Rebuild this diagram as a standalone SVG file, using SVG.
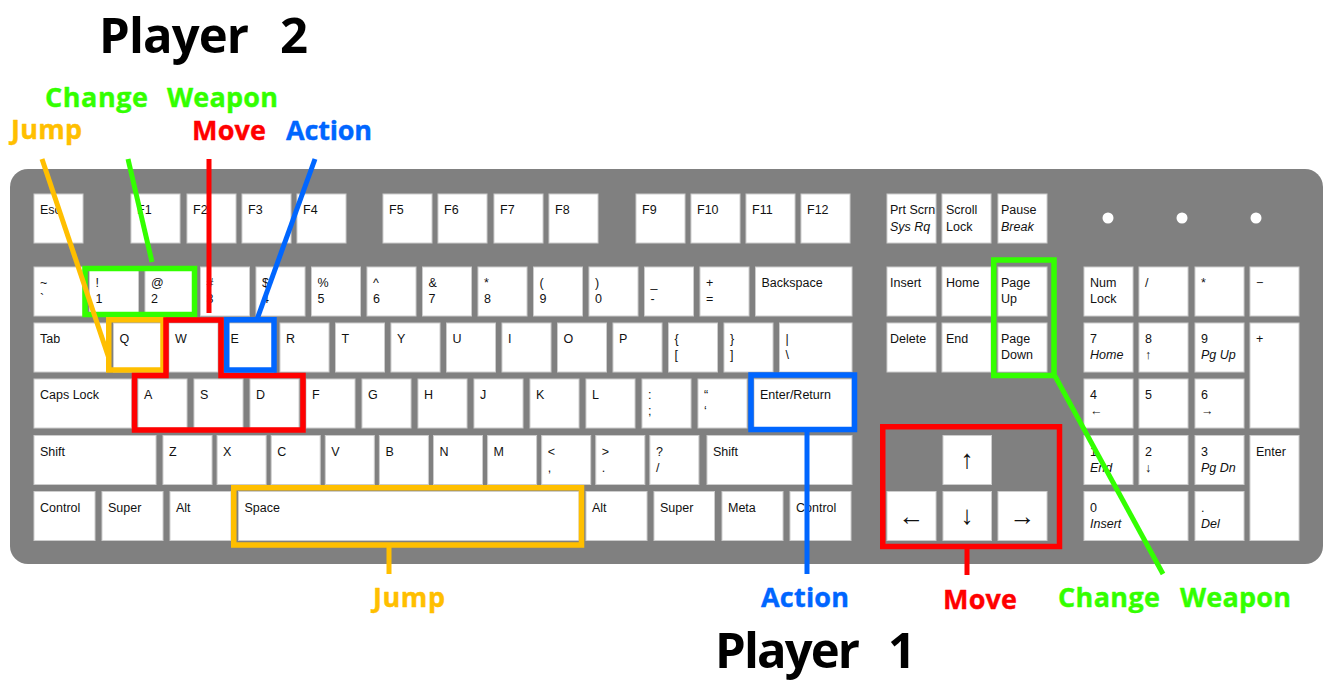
<svg xmlns="http://www.w3.org/2000/svg" width="1333" height="697" viewBox="0 0 1333 697">
<style>
.key{fill:#ffffff;stroke:#cdcdcd;stroke-width:1}
.k{font-family:"Liberation Sans",Arial,sans-serif;font-size:12.5px;fill:#111111}
.it{font-style:italic}
.arr{font-family:"Liberation Sans",Arial,sans-serif;font-size:26px;fill:#111111;text-anchor:middle}
.hl{fill:none;stroke-width:5.5}
.ln{fill:none;stroke-width:5;stroke-linecap:butt}
.fun{font-family:"Open Sans","Lato",sans-serif;font-weight:700;font-size:27px;stroke-width:0.4;stroke-linejoin:round}
.big{font-family:"Open Sans","Lato",sans-serif;font-weight:700;font-size:49px;fill:#000}
.org{fill:#ffbf00;stroke:#ffbf00}
.grn{fill:#33ff00;stroke:#33ff00}
.red{fill:#ff0000;stroke:#ff0000}
.blu{fill:#0066ff;stroke:#0066ff}
</style>

<!-- keyboard body -->
<rect id="body" x="10" y="169" width="1313" height="395" rx="18" fill="#808080"/>
<circle cx="1108" cy="218" r="5.5" fill="#fff"/>
<circle cx="1182" cy="218" r="5.5" fill="#fff"/>
<circle cx="1256" cy="218" r="5.5" fill="#fff"/>

<!-- function row -->
<g id="k-esc"><rect class="key" x="34" y="194" width="49" height="49"/><text class="k" x="40" y="214">Esc</text></g>
<g id="k-f1"><rect class="key" x="131" y="194" width="49" height="49"/><text class="k" x="137" y="214">F1</text></g>
<g id="k-f2"><rect class="key" x="187" y="194" width="49" height="49"/><text class="k" x="193" y="214">F2</text></g>
<g id="k-f3"><rect class="key" x="242" y="194" width="49" height="49"/><text class="k" x="248" y="214">F3</text></g>
<g id="k-f4"><rect class="key" x="297" y="194" width="49" height="49"/><text class="k" x="303" y="214">F4</text></g>
<g id="k-f5"><rect class="key" x="383" y="194" width="49" height="49"/><text class="k" x="389" y="214">F5</text></g>
<g id="k-f6"><rect class="key" x="438" y="194" width="49" height="49"/><text class="k" x="444" y="214">F6</text></g>
<g id="k-f7"><rect class="key" x="494" y="194" width="49" height="49"/><text class="k" x="500" y="214">F7</text></g>
<g id="k-f8"><rect class="key" x="549" y="194" width="49" height="49"/><text class="k" x="555" y="214">F8</text></g>
<g id="k-f9"><rect class="key" x="636" y="194" width="49" height="49"/><text class="k" x="642" y="214">F9</text></g>
<g id="k-f10"><rect class="key" x="691" y="194" width="49" height="49"/><text class="k" x="697" y="214">F10</text></g>
<g id="k-f11"><rect class="key" x="746" y="194" width="49" height="49"/><text class="k" x="752" y="214">F11</text></g>
<g id="k-f12"><rect class="key" x="801" y="194" width="49" height="49"/><text class="k" x="807" y="214">F12</text></g>
<g id="k-prtscr"><rect class="key" x="887" y="194" width="49" height="49"/><text class="k" x="890" y="214">Prt Scrn</text><text class="k it" x="890" y="231">Sys Rq</text></g>
<g id="k-scroll"><rect class="key" x="942" y="194" width="49" height="49"/><text class="k" x="946" y="214">Scroll</text><text class="k" x="946" y="231">Lock</text></g>
<g id="k-pause"><rect class="key" x="998" y="194" width="49" height="49"/><text class="k" x="1001" y="214">Pause</text><text class="k it" x="1001" y="231">Break</text></g>

<!-- number row -->
<g id="k-tilde"><rect class="key" x="34" y="267" width="49" height="49"/><text class="k" x="40" y="287">~</text><text class="k" x="40" y="303">`</text></g>
<g id="k-1"><rect class="key" x="89.5" y="267" width="49" height="49"/><text class="k" x="95.5" y="287">!</text><text class="k" x="95.5" y="303">1</text></g>
<g id="k-2"><rect class="key" x="145" y="267" width="49" height="49"/><text class="k" x="151" y="287">@</text><text class="k" x="151" y="303">2</text></g>
<g id="k-3"><rect class="key" x="200.5" y="267" width="49" height="49"/><text class="k" x="206.5" y="287">#</text><text class="k" x="206.5" y="303">3</text></g>
<g id="k-4"><rect class="key" x="256" y="267" width="49" height="49"/><text class="k" x="262" y="287">$</text><text class="k" x="262" y="303">4</text></g>
<g id="k-5"><rect class="key" x="311.5" y="267" width="49" height="49"/><text class="k" x="317.5" y="287">%</text><text class="k" x="317.5" y="303">5</text></g>
<g id="k-6"><rect class="key" x="367" y="267" width="49" height="49"/><text class="k" x="373" y="287">^</text><text class="k" x="373" y="303">6</text></g>
<g id="k-7"><rect class="key" x="422.5" y="267" width="49" height="49"/><text class="k" x="428.5" y="287">&amp;</text><text class="k" x="428.5" y="303">7</text></g>
<g id="k-8"><rect class="key" x="478" y="267" width="49" height="49"/><text class="k" x="484" y="287">*</text><text class="k" x="484" y="303">8</text></g>
<g id="k-9"><rect class="key" x="533.5" y="267" width="49" height="49"/><text class="k" x="539.5" y="287">(</text><text class="k" x="539.5" y="303">9</text></g>
<g id="k-0"><rect class="key" x="589" y="267" width="49" height="49"/><text class="k" x="595" y="287">)</text><text class="k" x="595" y="303">0</text></g>
<g id="k-minus"><rect class="key" x="644.5" y="267" width="49" height="49"/><text class="k" x="650.5" y="287">_</text><text class="k" x="650.5" y="303">-</text></g>
<g id="k-equal"><rect class="key" x="700" y="267" width="49" height="49"/><text class="k" x="706" y="287">+</text><text class="k" x="706" y="303">=</text></g>
<g id="k-backspace"><rect class="key" x="755.5" y="267" width="96.5" height="49"/><text class="k" x="761.5" y="287">Backspace</text></g>
<g id="k-insert"><rect class="key" x="887" y="267" width="49" height="49"/><text class="k" x="890" y="287">Insert</text></g>
<g id="k-home"><rect class="key" x="942" y="267" width="49" height="49"/><text class="k" x="946" y="287">Home</text></g>
<g id="k-pgup"><rect class="key" x="998" y="267" width="49" height="49"/><text class="k" x="1001" y="287">Page</text><text class="k" x="1001" y="303">Up</text></g>
<g id="k-numlock"><rect class="key" x="1084" y="267" width="49" height="49"/><text class="k" x="1090" y="287">Num</text><text class="k" x="1090" y="303">Lock</text></g>
<g id="k-kpdiv"><rect class="key" x="1139" y="267" width="49" height="49"/><text class="k" x="1145" y="287">/</text></g>
<g id="k-kpmul"><rect class="key" x="1195" y="267" width="49" height="49"/><text class="k" x="1201" y="287">*</text></g>
<g id="k-kpsub"><rect class="key" x="1250" y="267" width="49" height="49"/><text class="k" x="1256" y="287">−</text></g>

<!-- top letter row -->
<g id="k-tab"><rect class="key" x="34" y="323" width="72.5" height="49"/><text class="k" x="40" y="343">Tab</text></g>
<g id="k-q"><rect class="key" x="113.5" y="323" width="49" height="49"/><text class="k" x="119.5" y="343">Q</text></g>
<g id="k-w"><rect class="key" x="169" y="323" width="49" height="49"/><text class="k" x="175" y="343">W</text></g>
<g id="k-e"><rect class="key" x="224.5" y="323" width="49" height="49"/><text class="k" x="230.5" y="343">E</text></g>
<g id="k-r"><rect class="key" x="280" y="323" width="49" height="49"/><text class="k" x="286" y="343">R</text></g>
<g id="k-t"><rect class="key" x="335.5" y="323" width="49" height="49"/><text class="k" x="341.5" y="343">T</text></g>
<g id="k-y"><rect class="key" x="391" y="323" width="49" height="49"/><text class="k" x="397" y="343">Y</text></g>
<g id="k-u"><rect class="key" x="446.5" y="323" width="49" height="49"/><text class="k" x="452.5" y="343">U</text></g>
<g id="k-i"><rect class="key" x="502" y="323" width="49" height="49"/><text class="k" x="508" y="343">I</text></g>
<g id="k-o"><rect class="key" x="557.5" y="323" width="49" height="49"/><text class="k" x="563.5" y="343">O</text></g>
<g id="k-p"><rect class="key" x="613" y="323" width="49" height="49"/><text class="k" x="619" y="343">P</text></g>
<g id="k-lbrace"><rect class="key" x="668.5" y="323" width="49" height="49"/><text class="k" x="674.5" y="343">{</text><text class="k" x="674.5" y="359">[</text></g>
<g id="k-rbrace"><rect class="key" x="724" y="323" width="49" height="49"/><text class="k" x="730" y="343">}</text><text class="k" x="730" y="359">]</text></g>
<g id="k-pipe"><rect class="key" x="779.5" y="323" width="72.5" height="49"/><text class="k" x="785.5" y="343">|</text><text class="k" x="785.5" y="359">\</text></g>
<g id="k-delete"><rect class="key" x="887" y="323" width="49" height="49"/><text class="k" x="890" y="343">Delete</text></g>
<g id="k-end"><rect class="key" x="942" y="323" width="49" height="49"/><text class="k" x="946" y="343">End</text></g>
<g id="k-pgdn"><rect class="key" x="998" y="323" width="49" height="49"/><text class="k" x="1001" y="343">Page</text><text class="k" x="1001" y="359">Down</text></g>
<g id="k-kp7"><rect class="key" x="1084" y="323" width="49" height="49"/><text class="k" x="1090" y="343">7</text><text class="k it" x="1090" y="359">Home</text></g>
<g id="k-kp8"><rect class="key" x="1139" y="323" width="49" height="49"/><text class="k" x="1145" y="343">8</text><text class="k" x="1145" y="359">↑</text></g>
<g id="k-kp9"><rect class="key" x="1195" y="323" width="49" height="49"/><text class="k" x="1201" y="343">9</text><text class="k it" x="1201" y="359">Pg Up</text></g>
<g id="k-kpadd"><rect class="key" x="1250" y="323" width="49" height="105"/><text class="k" x="1256" y="343">+</text></g>

<!-- home row -->
<g id="k-caps"><rect class="key" x="34" y="379" width="97.5" height="49"/><text class="k" x="40" y="399">Caps Lock</text></g>
<g id="k-a"><rect class="key" x="138" y="379" width="49" height="49"/><text class="k" x="144" y="399">A</text></g>
<g id="k-s"><rect class="key" x="194" y="379" width="49" height="49"/><text class="k" x="200" y="399">S</text></g>
<g id="k-d"><rect class="key" x="250" y="379" width="49" height="49"/><text class="k" x="256" y="399">D</text></g>
<g id="k-f"><rect class="key" x="306" y="379" width="49" height="49"/><text class="k" x="312" y="399">F</text></g>
<g id="k-g"><rect class="key" x="362" y="379" width="49" height="49"/><text class="k" x="368" y="399">G</text></g>
<g id="k-h"><rect class="key" x="418" y="379" width="49" height="49"/><text class="k" x="424" y="399">H</text></g>
<g id="k-j"><rect class="key" x="474" y="379" width="49" height="49"/><text class="k" x="480" y="399">J</text></g>
<g id="k-k"><rect class="key" x="530" y="379" width="49" height="49"/><text class="k" x="536" y="399">K</text></g>
<g id="k-l"><rect class="key" x="586" y="379" width="49" height="49"/><text class="k" x="592" y="399">L</text></g>
<g id="k-semi"><rect class="key" x="642" y="379" width="49" height="49"/><text class="k" x="648" y="399">:</text><text class="k" x="648" y="415">;</text></g>
<g id="k-quote"><rect class="key" x="698" y="379" width="49" height="49"/><text class="k" x="704" y="399">“</text><text class="k" x="704" y="415">‘</text></g>
<g id="k-enter"><rect class="key" x="754" y="379" width="98" height="49"/><text class="k" x="760" y="399">Enter/Return</text></g>
<g id="k-kp4"><rect class="key" x="1084" y="379" width="49" height="49"/><text class="k" x="1090" y="399">4</text><text class="k" x="1090" y="415">←</text></g>
<g id="k-kp5"><rect class="key" x="1139" y="379" width="49" height="49"/><text class="k" x="1145" y="399">5</text></g>
<g id="k-kp6"><rect class="key" x="1195" y="379" width="49" height="49"/><text class="k" x="1201" y="399">6</text><text class="k" x="1201" y="415">→</text></g>

<!-- bottom letter row -->
<g id="k-lshift"><rect class="key" x="34" y="435.5" width="122" height="49"/><text class="k" x="40" y="455.5">Shift</text></g>
<g id="k-z"><rect class="key" x="163" y="435.5" width="49" height="49"/><text class="k" x="169" y="455.5">Z</text></g>
<g id="k-x"><rect class="key" x="217.1" y="435.5" width="49" height="49"/><text class="k" x="223.1" y="455.5">X</text></g>
<g id="k-c"><rect class="key" x="271.2" y="435.5" width="49" height="49"/><text class="k" x="277.2" y="455.5">C</text></g>
<g id="k-v"><rect class="key" x="325.3" y="435.5" width="49" height="49"/><text class="k" x="331.3" y="455.5">V</text></g>
<g id="k-b"><rect class="key" x="379.4" y="435.5" width="49" height="49"/><text class="k" x="385.4" y="455.5">B</text></g>
<g id="k-n"><rect class="key" x="433.5" y="435.5" width="49" height="49"/><text class="k" x="439.5" y="455.5">N</text></g>
<g id="k-m"><rect class="key" x="487.6" y="435.5" width="49" height="49"/><text class="k" x="493.6" y="455.5">M</text></g>
<g id="k-comma"><rect class="key" x="541.7" y="435.5" width="49" height="49"/><text class="k" x="547.7" y="455.5">&lt;</text><text class="k" x="547.7" y="471.5">,</text></g>
<g id="k-period"><rect class="key" x="595.8" y="435.5" width="49" height="49"/><text class="k" x="601.8" y="455.5">&gt;</text><text class="k" x="601.8" y="471.5">.</text></g>
<g id="k-slash"><rect class="key" x="649.9" y="435.5" width="49" height="49"/><text class="k" x="655.9" y="455.5">?</text><text class="k" x="655.9" y="471.5">/</text></g>
<g id="k-rshift"><rect class="key" x="707" y="435.5" width="145" height="49"/><text class="k" x="713" y="455.5">Shift</text></g>
<g id="k-up"><rect class="key" x="943" y="435.5" width="48.5" height="49"/><text class="arr" x="967" y="468">↑</text></g>
<g id="k-kp1"><rect class="key" x="1084" y="435.5" width="49" height="49"/><text class="k" x="1090" y="455.5">1</text><text class="k it" x="1090" y="471.5">End</text></g>
<g id="k-kp2"><rect class="key" x="1139" y="435.5" width="49" height="49"/><text class="k" x="1145" y="455.5">2</text><text class="k" x="1145" y="471.5">↓</text></g>
<g id="k-kp3"><rect class="key" x="1195" y="435.5" width="49" height="49"/><text class="k" x="1201" y="455.5">3</text><text class="k it" x="1201" y="471.5">Pg Dn</text></g>
<g id="k-kpenter"><rect class="key" x="1250" y="435.5" width="49" height="105"/><text class="k" x="1256" y="455.5">Enter</text></g>

<!-- modifier row -->
<g id="k-lctrl"><rect class="key" x="34" y="491.5" width="61" height="49"/><text class="k" x="40" y="511.5">Control</text></g>
<g id="k-lsuper"><rect class="key" x="102" y="491.5" width="61" height="49"/><text class="k" x="108" y="511.5">Super</text></g>
<g id="k-lalt"><rect class="key" x="170" y="491.5" width="61" height="49"/><text class="k" x="176" y="511.5">Alt</text></g>
<g id="k-space"><rect class="key" x="238.5" y="491.5" width="340.5" height="49"/><text class="k" x="244.5" y="511.5">Space</text></g>
<g id="k-ralt"><rect class="key" x="586" y="491.5" width="61" height="49"/><text class="k" x="592" y="511.5">Alt</text></g>
<g id="k-rsuper"><rect class="key" x="654" y="491.5" width="60.5" height="49"/><text class="k" x="660" y="511.5">Super</text></g>
<g id="k-meta"><rect class="key" x="722" y="491.5" width="61" height="49"/><text class="k" x="728" y="511.5">Meta</text></g>
<g id="k-rctrl"><rect class="key" x="790" y="491.5" width="61" height="49"/><text class="k" x="796" y="511.5">Control</text></g>
<g id="k-left"><rect class="key" x="887" y="491.5" width="49" height="49"/><text class="arr" x="911.5" y="525">←</text></g>
<g id="k-down"><rect class="key" x="943" y="491.5" width="48.5" height="49"/><text class="arr" x="967" y="524">↓</text></g>
<g id="k-right"><rect class="key" x="998" y="491.5" width="49" height="49"/><text class="arr" x="1022.5" y="525">→</text></g>
<g id="k-kp0"><rect class="key" x="1084" y="491.5" width="104" height="49"/><text class="k" x="1090" y="511.5">0</text><text class="k it" x="1090" y="527.5">Insert</text></g>
<g id="k-kpdot"><rect class="key" x="1195" y="491.5" width="49" height="49"/><text class="k" x="1201" y="511.5">.</text><text class="k it" x="1201" y="527.5">Del</text></g>

<!-- highlighted key groups -->
<g id="p2-weapon-keys"><rect class="hl" stroke="#33ff00" x="85" y="268.5" width="109.5" height="46"/></g>
<g id="p2-jump-key"><rect class="hl" stroke="#ffbf00" x="108.75" y="319.75" width="54.25" height="50.25"/></g>
<g id="p2-move-keys"><path class="hl" stroke="#ff0000" d="M166,320 H221 V375.5 H303 V430 H134.5 V375.5 H166 Z"/></g>
<g id="p2-action-key"><rect class="hl" stroke="#0066ff" x="226.75" y="319.75" width="47.25" height="50.25"/></g>
<g id="p1-jump-key"><rect class="hl" stroke="#ffbf00" x="233.75" y="487.75" width="347.75" height="57.25"/></g>
<g id="p1-action-key"><rect class="hl" stroke="#0066ff" x="751" y="375" width="103.5" height="54.5"/></g>
<g id="p1-move-keys"><rect class="hl" stroke="#ff0000" x="882.75" y="426.75" width="176.75" height="119.75"/></g>
<g id="p1-weapon-keys"><rect class="hl" stroke="#33ff00" x="993.75" y="260" width="60.25" height="115.5"/></g>

<!-- leader lines -->
<g id="connectors">
<line class="ln" stroke="#ffbf00" x1="42" y1="159" x2="108.5" y2="357"/>
<line class="ln" stroke="#33ff00" x1="128" y1="159" x2="152" y2="262"/>
<line class="ln" stroke="#ff0000" x1="209" y1="159" x2="209" y2="313"/>
<line class="ln" stroke="#0066ff" x1="315" y1="159" x2="257.5" y2="318"/>
<line class="ln" stroke="#ffbf00" x1="389" y1="547" x2="389" y2="574"/>
<line class="ln" stroke="#0066ff" x1="807" y1="432" x2="807" y2="574"/>
<line class="ln" stroke="#ff0000" x1="967" y1="549" x2="967" y2="575"/>
<line class="ln" stroke="#33ff00" x1="1055" y1="376" x2="1163" y2="574"/>
</g>

<!-- captions -->
<g id="title-p2"><text class="big" y="53"><tspan x="99" textLength="150" lengthAdjust="spacing">Player</tspan><tspan x="280">2</tspan></text></g>
<g id="lbl-p2-weapon"><text class="fun grn" y="107"><tspan x="45" textLength="103" lengthAdjust="spacing">Change</tspan><tspan x="167" textLength="111" lengthAdjust="spacing">Weapon</tspan></text></g>
<g id="lbl-p2-jump"><text class="fun org" x="11" y="139" textLength="71" lengthAdjust="spacing">Jump</text></g>
<g id="lbl-p2-move"><text class="fun red" x="192" y="140" textLength="74" lengthAdjust="spacing">Move</text></g>
<g id="lbl-p2-action"><text class="fun blu" x="286" y="140" textLength="86" lengthAdjust="spacing">Action</text></g>
<g id="lbl-p1-jump"><text class="fun org" x="373" y="607" textLength="72" lengthAdjust="spacing">Jump</text></g>
<g id="lbl-p1-action"><text class="fun blu" x="761" y="607" textLength="88" lengthAdjust="spacing">Action</text></g>
<g id="lbl-p1-move"><text class="fun red" x="943" y="609" textLength="74" lengthAdjust="spacing">Move</text></g>
<g id="lbl-p1-weapon"><text class="fun grn" y="607"><tspan x="1058" textLength="102" lengthAdjust="spacing">Change</tspan><tspan x="1180" textLength="111" lengthAdjust="spacing">Weapon</tspan></text></g>
<g id="title-p1"><text class="big" y="668"><tspan x="715" textLength="145" lengthAdjust="spacing">Player</tspan><tspan x="888">1</tspan></text></g>
</svg>
